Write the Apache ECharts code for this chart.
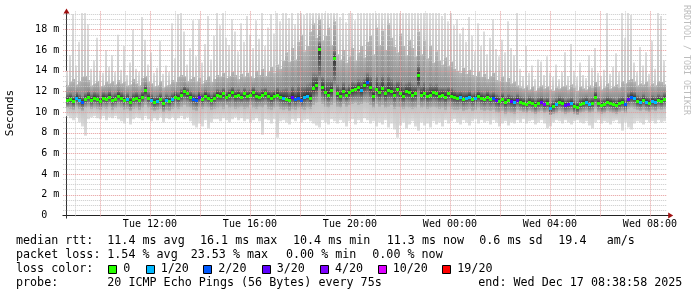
<!DOCTYPE html>
<html><head><meta charset="utf-8">
<script src="https://cdn.jsdelivr.net/npm/echarts@6/dist/echarts.min.js"></script>
<style>html,body{margin:0;padding:0;background:#fff}#c{width:697px;height:297px}</style>
</head><body><div id="c"></div>
<script>
// ---- time base (hours since Tue 00:00) ----
const START_HOUR = 8 + 38 / 60 + 58 / 3600;   // Tue 08:38:58
const SPAN_HOURS = 24;
const STEP_HOURS = 0.12;
const Y_MAX = 19.75;
const xLabelHours = [12, 16, 20, 24, 28, 32];

// ---- median rtt (ms) per step ----
const median = [
11.2,11.3,11.1,11.4,11.2,11.0,11.3,11.5,11.2,11.4,
11.3,11.1,11.4,11.3,11.5,11.2,11.3,11.6,11.4,11.2,
11.3,11.0,11.3,11.4,11.2,11.5,12.1,11.4,11.2,11.0,
11.1,11.3,10.9,11.2,11.1,11.3,11.5,11.4,11.7,12.0,
11.8,11.5,11.3,11.2,11.5,11.3,11.6,11.4,11.2,11.4,
11.7,11.6,11.8,11.5,11.7,11.9,11.6,11.7,11.5,11.8,
11.6,11.7,11.9,11.6,11.5,11.7,11.8,11.6,11.4,11.6,
11.7,11.5,11.4,11.3,11.2,11.5,11.3,11.4,11.2,11.5,
11.6,11.4,12.3,12.6,16.1,12.4,11.9,11.7,12.1,15.2,
11.8,11.6,12.0,11.7,11.9,12.1,12.2,12.4,12.1,12.6,
12.9,12.4,11.6,12.2,11.9,12.3,11.8,12.1,12.0,11.7,
12.2,11.8,11.6,12.0,11.9,11.7,11.8,13.6,11.7,11.8,
11.6,11.7,11.9,11.8,11.6,11.7,11.5,11.8,11.6,11.5,
11.4,11.5,11.3,11.4,11.5,11.3,11.4,11.6,11.4,11.3,
11.5,11.3,11.4,11.2,11.1,11.3,11.0,11.2,11.1,11.0,
11.2,11.0,10.9,10.8,11.0,10.9,10.7,10.9,11.0,10.8,
10.9,10.4,10.6,10.8,11.0,10.9,10.7,10.8,10.9,10.6,
10.5,10.8,10.9,11.0,10.8,10.9,11.5,10.9,10.7,10.8,
11.0,10.9,10.8,10.7,10.9,11.0,10.8,11.3,11.5,11.4,
11.1,11.0,11.2,11.0,10.9,11.1,11.0,11.2,11.1,11.3
];
// ---- lost pings (of 20) per step ----
const lossCount = [
0,0,0,1,1,2,0,0,0,0, 0,0,0,0,0,0,0,0,0,0, 1,0,0,0,0,0,0,0,1,0, 1,0,0,1,0,1,0,0,0,0, 0,0,2,2,3,0,0,0,0,0,
0,0,0,0,0,0,0,0,0,0, 0,0,0,0,0,0,0,0,0,0, 0,0,1,0,0,3,2,2,2,1, 1,0,0,0,0,0,0,0,0,0, 0,0,0,0,0,0,0,0,1,0,
2,0,0,0,0,0,0,0,0,0, 0,0,0,0,0,0,0,0,0,0, 0,0,0,0,0,0,0,0,0,0, 0,1,0,1,1,0,1,0,0,0, 0,0,2,3,0,0,0,0,3,1,
3,0,0,0,0,0,0,0,3,4, 0,1,0,1,0,0,3,3,1,0, 0,0,0,1,1,0,0,0,0,0, 0,0,0,0,0,0,2,3,2,1, 0,1,0,1,0,1,1,0,0,0
];
// ---- smoke: lowest ping, inner low, inner high, highest ping (ms) ----
const pingMin = [
9.6,9.4,9.2,9.5,9.0,8.6,7.7,9.3,9.5,9.6, 9.4,9.3,9.6,9.2,9.5,9.4,9.6,9.3,9.1,8.9,
9.4,8.8,9.3,9.5,9.4,9.2,9.6,9.3,9.1,9.4, 9.2,9.5,9.0,9.4,9.3,9.5,9.2,9.4,9.6,9.3,
9.5,9.1,8.7,8.5,8.9,8.6,9.2,8.4,9.0,9.3,
9.3,9.1,9.4,9.2,9.0,9.3,9.5,9.2,9.4,9.1, 9.3,9.0,9.2,9.4,9.1,7.8,9.3,9.2,8.9,9.3,
7.5,9.1,9.2,9.0,8.8,9.3,9.1,9.4,9.0,9.2, 9.3,9.1,8.9,8.7,8.5,9.2,9.0,8.8,9.3,9.1,
8.9,9.2,9.0,8.6,9.1,9.3,8.8,9.2,9.0,9.4,
9.2,8.9,9.1,8.6,9.0,8.8,9.2,8.5,8.9,8.3, 7.5,8.7,9.0,8.4,8.8,9.1,8.6,8.2,9.0,8.7,
8.9,8.5,9.1,8.8,9.0,8.6,9.2,8.9,9.1,9.3, 9.0,8.8,9.2,9.0,8.7,9.1,9.3,8.9,9.2,9.0,
9.1,8.8,9.2,9.0,8.6,8.9,9.1,8.7,9.0,8.9,
9.2,9.0,9.3,8.9,9.1,9.2,8.8,9.0,9.2,8.9, 8.4,8.6,9.0,9.2,9.1,8.9,9.2,9.0,8.8,9.1,
9.2,9.0,8.9,9.1,8.7,8.4,9.0,9.2,8.9,9.1, 9.0,8.8,9.1,9.2,8.9,8.2,9.0,8.5,8.3,8.9,
9.1,9.0,8.8,9.2,9.0,9.1,8.9,9.2,9.0,9.1
];
const pingLow = [
10.4,10.3,10.2,10.5,10.3,10.1,10.4,10.5,10.3,10.4, 10.3,10.2,10.4,10.3,10.5,10.2,10.4,10.5,10.4,10.2,
10.3,10.1,10.3,10.4,10.2,10.4,10.6,10.4,10.2,10.1, 10.2,10.3,10.0,10.2,10.1,10.3,10.4,10.3,10.5,10.6,
10.5,10.4,10.2,10.1,10.4,10.3,10.5,10.4,10.2,10.3,
10.4,10.5,10.3,10.6,10.4,10.5,10.3,10.4,10.5,10.3, 10.4,10.6,10.4,10.3,10.5,10.4,10.6,10.3,10.2,10.4,
10.5,10.3,10.2,10.3,10.1,10.3,10.2,10.4,10.3,10.2, 10.4,10.3,10.6,10.8,10.9,10.7,10.5,10.4,10.6,10.8,
10.5,10.4,10.7,10.5,10.6,10.7,10.8,10.6,10.7,10.9,
10.8,10.6,10.4,10.7,10.5,10.6,10.4,10.5,10.6,10.3, 10.5,10.4,10.3,10.5,10.4,10.3,10.4,10.6,10.4,10.5,
10.3,10.4,10.5,10.4,10.3,10.4,10.2,10.5,10.3,10.2, 10.2,10.3,10.1,10.2,10.3,10.1,10.2,10.4,10.2,10.1,
10.2,10.1,10.2,10.0,9.9,10.1,9.8,10.0,9.9,9.8,
10.2,10.1,10.0,9.9,10.1,10.0,9.8,10.0,10.1,9.9, 10.0,9.7,9.8,9.9,10.1,10.0,9.8,9.9,10.0,9.8,
9.7,9.9,10.0,10.1,9.9,10.0,10.3,10.0,9.8,9.9, 10.1,10.0,9.9,9.8,10.0,10.1,9.9,10.3,10.4,10.3,
10.2,10.1,10.2,10.1,10.0,10.2,10.1,10.3,10.2,10.3
];
const pingHigh = [
12.6,12.9,13.2,12.7,13.0,13.4,13.5,13.1,12.6,12.8, 13.0,12.5,12.6,12.9,12.8,13.0,12.7,13.1,12.8,12.9,
12.6,12.7,13.2,12.8,12.6,13.3,13.5,12.9,12.8,12.5, 12.6,13.0,12.4,12.6,12.7,13.1,12.9,13.4,13.6,13.5,
13.0,13.2,13.4,12.9,13.3,12.8,13.1,13.5,12.9,13.2,
13.6,13.4,13.8,13.3,13.5,13.9,13.6,13.2,13.7,13.4, 13.8,13.5,13.3,14.0,13.6,14.2,13.5,13.9,14.4,13.8,
14.6,14.2,15.0,15.8,14.9,16.2,15.1,16.8,17.5,15.9, 16.4,17.8,18.6,17.2,19.0,16.9,17.4,18.2,16.5,18.8,
15.6,15.1,16.0,14.8,15.4,16.2,15.0,15.8,16.4,15.3,
16.8,17.4,15.6,18.2,16.5,17.9,16.0,18.6,17.2,16.3, 15.8,17.6,16.4,15.5,17.0,16.2,15.4,17.8,15.6,16.9,
15.2,16.4,14.8,15.9,15.0,14.6,15.3,14.5,14.9,14.2, 14.0,13.8,14.3,13.7,14.1,13.6,13.5,13.9,13.4,13.7,
13.2,13.5,13.8,13.1,13.0,13.4,12.9,13.3,12.8,12.9,
12.6,12.4,12.3,12.6,12.2,12.5,12.1,12.4,12.6,12.3, 12.5,12.2,12.1,12.4,12.3,12.5,12.6,12.2,12.7,12.4,
12.1,12.5,12.3,12.2,12.6,12.4,12.9,12.5,12.2,12.4, 12.8,12.3,12.5,12.7,12.4,13.0,12.8,13.1,13.2,12.9,
12.6,12.8,12.7,12.9,12.5,12.8,12.6,13.0,12.9,12.7
];
const pingMax = [
14.0,15.5,19.5,14.5,16.8,19.6,19.6,18.5,14.2,15.0, 17.2,14.0,13.8,16.0,14.4,15.5,13.9,17.5,14.1,16.4,
13.6,14.8,18.0,14.2,13.9,19.2,17.0,14.6,15.8,13.8, 14.3,16.9,13.7,14.5,13.9,18.6,15.2,19.5,19.6,17.8,
14.6,16.2,18.9,15.4,19.0,14.8,16.6,19.3,15.1,17.4,
19.6,18.4,19.6,17.2,16.5,19.0,17.8,15.9,18.6,16.8, 19.3,17.5,16.2,18.9,17.1,19.6,16.4,18.2,19.5,17.6,
19.6,18.8,19.6,19.6,19.1,19.6,18.5,19.6,19.6,19.4, 19.6,19.6,19.6,19.6,19.6,19.6,19.6,19.6,19.6,19.6,
19.6,19.2,19.6,18.7,19.6,19.6,18.9,19.6,19.6,19.6,
19.6,19.6,19.6,19.6,19.6,19.6,19.6,19.6,19.6,19.6, 19.6,19.6,19.6,19.6,19.6,19.6,19.6,19.6,19.6,19.6,
19.6,19.6,19.6,19.6,19.6,19.3,19.6,18.8,19.6,18.4, 19.0,17.6,18.2,16.8,19.2,17.4,15.9,18.6,16.4,17.8,
15.6,17.2,19.0,16.1,15.4,17.0,15.8,18.8,16.2,15.5,
19.6,14.2,13.5,16.4,13.8,14.5,13.2,15.1,14.9,13.6, 15.4,13.8,13.4,14.6,13.2,13.9,15.8,13.5,16.6,14.0,
13.4,14.8,13.6,13.3,15.5,14.3,16.2,13.8,13.5,14.1, 19.6,13.7,14.4,15.7,13.9,19.6,17.2,19.6,19.4,14.8,
13.9,16.3,14.5,15.8,13.7,16.9,14.2,19.6,19.3,15.0
];

// ---- legend ----
const lossBins = [0, 1, 2, 3, 4, 10, 19];
const lossLabels = ['0', '1/20', '2/20', '3/20', '4/20', '10/20', '19/20'];
const lossColors = ['#26ff00', '#00b8ff', '#0059ff', '#5e00ff', '#7e00ff', '#dd00ff', '#ff0000'];
const rttStats = ['median rtt:', '11.4 ms avg', '16.1 ms max', '10.4 ms min', '11.3 ms now', '0.6 ms sd', '19.4', 'am/s'];
const lossStats = ['packet loss:', '1.54 % avg', '23.53 % max', '0.00 % min', '0.00 % now'];
const probeText = ['probe:', '20 ICMP Echo Pings (56 Bytes) every 75s', 'end: Wed Dec 17 08:38:58 2025'];
const yTitle = 'Seconds';
const watermark = 'RRDTOOL / TOBI OETIKER';

// ================= rendering =================
const times = median.map((_, i) => START_HOUR + i * STEP_HOURS);
const binIndex = n => { let k = 0; lossBins.forEach((b, j) => { if (n >= b) k = j; }); return k; };
const MONO = 'DejaVu Sans Mono';
const MINOR = '#cacaca', MAJOR = '#e59a9a';

const chart = echarts.init(document.getElementById('c'), null, { renderer: 'canvas' });

const grad = stops => new echarts.graphic.LinearGradient(0, 0, 0, 1, stops.map(([o, c]) => ({ offset: o, color: c })));

function smokeItem(params, api) {
  const t = api.value(0);
  const xa = Math.round(api.coord([t, 0])[0]);
  const xb = Math.round(api.coord([t + STEP_HOURS, 0])[0]);
  const w = xb - xa;
  const py = v => api.coord([t, v])[1];
  const yMn = py(api.value(1)), yLo = py(api.value(2)), yMed = py(api.value(3)), yHi = py(api.value(4)), yMx = py(api.value(5));
  const hU = yMed - yHi, hD = yLo - yMed;
  const cU = Math.max(6, 0.25 * hU), cD = Math.max(6, 0.6 * hD);
  const upFill = hU > cU ? grad([[0, '#b6b6b6'], [1 - cU / hU, '#8e8e8e'], [1, '#333']]) : grad([[0, '#7a7a7a'], [1, '#333']]);
  const dnFill = hD > cD ? grad([[0, '#333'], [cD / hD, '#8e8e8e'], [1, '#b6b6b6']]) : grad([[0, '#333'], [1, '#7a7a7a']]);
  return { type: 'group', children: [
    { type: 'rect', shape: { x: xa, y: yMx, width: Math.max(1, w - 1), height: yHi - yMx }, style: { fill: grad([[0, '#dedede'], [1, '#c2c2c2']]) } },
    { type: 'rect', shape: { x: xa, y: yLo, width: w, height: yMn - yLo }, style: { fill: grad([[0, '#c2c2c2'], [1, '#dedede']]) } },
    { type: 'rect', shape: { x: xa, y: yHi, width: w, height: hU }, style: { fill: upFill } },
    { type: 'rect', shape: { x: xa, y: yMed, width: w, height: hD }, style: { fill: dnFill } }
  ] };
}

function medItem(params, api) {
  const t = api.value(0), m = api.value(1), loss = api.value(2);
  const xa = Math.round(api.coord([t, 0])[0]);
  const xb = Math.round(api.coord([t + STEP_HOURS, 0])[0]);
  const y = Math.round(api.coord([t, m])[1]);
  return { type: 'rect', shape: { x: xa, y: y - 1, width: xb - xa, height: 3 }, style: { fill: lossColors[binIndex(loss)] } };
}

function vGridItem(params, api) {
  const h = api.value(0);
  const x = Math.round(api.coord([h, 0])[0]) + 0.5;
  const yTop = api.coord([h, Y_MAX])[1], yBot = api.coord([h, 0])[1];
  return { type: 'line', shape: { x1: x, y1: yTop, x2: x, y2: yBot + 2 },
    style: { stroke: h % 2 === 0 ? MAJOR : MINOR, lineWidth: 1, lineDash: [1, 1] } };
}
function hGridItem(params, api) {
  const v = api.value(1);
  const y = Math.round(api.coord([START_HOUR, v])[1]) + 0.5;
  const xL = api.coord([START_HOUR, v])[0], xR = api.coord([START_HOUR + SPAN_HOURS, v])[0];
  return { type: 'line', shape: { x1: xL - 3, y1: y, x2: xR, y2: y },
    style: { stroke: v % 2 === 0 ? MAJOR : MINOR, lineWidth: 1, lineDash: [1, 1] } };
}
const vGrid = [], hGrid = [];
for (let h = Math.ceil(START_HOUR); h <= START_HOUR + SPAN_HOURS; h++) vGrid.push([h, 0]);
for (let v = 0.5; v < Y_MAX; v += 0.5) hGrid.push([START_HOUR, v]);

chart.setOption({
  animation: false,
  backgroundColor: '#ffffff',
  grid: { left: 66.2, right: 30.8, top: 11.4, bottom: 81.7 },
  xAxis: {
    type: 'value', min: START_HOUR, max: START_HOUR + SPAN_HOURS,
    axisLine: { show: false }, axisTick: { show: false }, splitLine: { show: false },
    axisLabel: {
      customValues: xLabelHours, margin: 4, color: '#000', fontFamily: MONO, fontSize: 10,
      formatter: v => (v < 24 ? 'Tue ' : 'Wed ') + String(Math.round(v) % 24).padStart(2, '0') + ':00'
    }
  },
  yAxis: {
    type: 'value', min: 0, max: Y_MAX, interval: 2,
    axisLine: { show: false }, axisTick: { show: false }, splitLine: { show: false },
    axisLabel: {
      showMaxLabel: false, margin: 7, color: '#000', fontFamily: MONO, fontSize: 10,
      formatter: v => (v === 0 ? '0  ' : v + ' m')
    }
  },
  series: [
    { type: 'custom', z: 2, silent: true, renderItem: smokeItem, clip: true,
      data: times.map((t, i) => [t, pingMin[i], pingLow[i], median[i], pingHigh[i], pingMax[i]]) },
    { type: 'custom', z: 3, silent: true, renderItem: vGridItem, data: vGrid },
    { type: 'custom', z: 3, silent: true, renderItem: hGridItem, data: hGrid },
    { type: 'custom', z: 4, silent: true, renderItem: medItem,
      data: times.map((t, i) => [t, median[i], lossCount[i]]) }
  ]
});

// decorations: axes with arrows, titles, legend
const [xl, yb] = chart.convertToPixel({ gridIndex: 0 }, [START_HOUR, 0]);
const [xr, yt] = chart.convertToPixel({ gridIndex: 0 }, [START_HOUR + SPAN_HOURS, Y_MAX]);
const ax = Math.round(xl) + 0.5, ay = Math.round(yb) + 0.5;
const g = [];
g.push({ type: 'line', shape: { x1: ax - 4, y1: ay, x2: xr + 3, y2: ay }, style: { stroke: '#222', lineWidth: 1 } });
g.push({ type: 'line', shape: { x1: ax, y1: ay + 3, x2: ax, y2: yt - 1 }, style: { stroke: '#333', lineWidth: 1 } });
g.push({ type: 'polygon', shape: { points: [[ax, yt - 3], [ax - 3, yt + 2], [ax + 3, yt + 2]] }, style: { fill: '#a01010' } });
g.push({ type: 'polygon', shape: { points: [[xr + 7, ay], [xr + 2, ay - 3], [xr + 2, ay + 3]] }, style: { fill: '#a01010' } });
g.push({ type: 'text', x: 10.5, y: 113, rotation: Math.PI / 2,
  style: { text: yTitle, fill: '#000', font: '11px "DejaVu Sans Mono"', align: 'center', verticalAlign: 'middle' } });
g.push({ type: 'text', x: 686.5, y: 60, rotation: -Math.PI / 2,
  style: { text: watermark, fill: '#bdbdbd', font: '8.3px "DejaVu Sans Mono"', align: 'center', verticalAlign: 'middle' } });

const LF = '11.7px "DejaVu Sans Mono"';
const txt = (x, y, s) => g.push({ type: 'text', x, y, style: { text: s, fill: '#000', font: LF, align: 'left', verticalAlign: 'middle' } });
const rowY = [241.3, 255.1, 269, 282.8];
const rttX = [16, 107.3, 200, 293, 386.7, 479.3, 558.3, 606.7];
rttStats.forEach((s, i) => txt(rttX[i], rowY[0], s));
const lossX = [16, 107.3, 190.7, 286, 372.3];
lossStats.forEach((s, i) => txt(lossX[i], rowY[1], s));
txt(16, rowY[2], 'loss color:');
const boxX = [108.3, 145.7, 203.3, 261.7, 320, 377.7, 442.3];
lossLabels.forEach((s, i) => {
  g.push({ type: 'rect', shape: { x: Math.round(boxX[i]) + 0.5, y: 265.5, width: 8, height: 8 }, style: { fill: lossColors[i], stroke: '#000', lineWidth: 1 } });
  txt(boxX[i] + 15, rowY[2], s);
});
const probeX = [16, 107.3, 478.3];
probeText.forEach((s, i) => txt(probeX[i], rowY[3], s));

chart.setOption({ graphic: g });
</script>
</body></html>
